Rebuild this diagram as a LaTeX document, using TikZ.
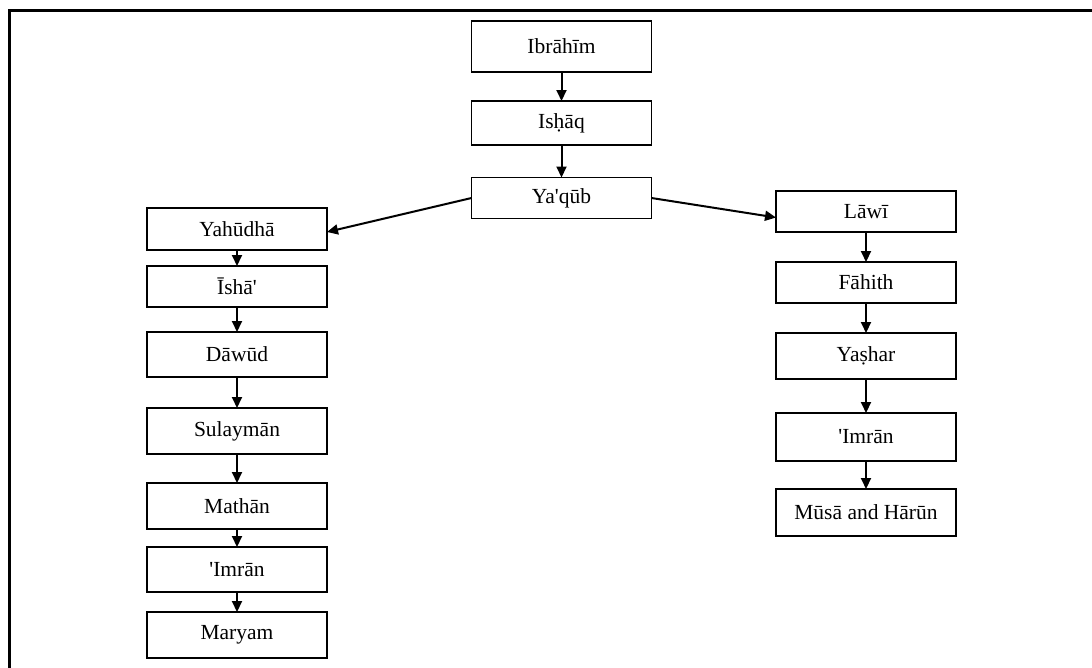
\documentclass[tikz,border=0pt]{standalone}
\usepackage{fontspec}
\setmainfont{Liberation Serif}[Ligatures=TeXOff]
\usetikzlibrary{arrows.meta,positioning}
\tikzset{
	family tree/.style={
		x=1pt, y=-1pt,
		font=\fontsize{21.5}{24}\selectfont,
		ar/.style={draw, line width=2pt, -{Triangle[length=11pt,width=10pt]}},
		frame/.style={draw, line width=3pt}
	},
	pbox/.style={draw, line width=1.7pt, minimum width=180pt, minimum height=#1,
		inner sep=0pt, outer sep=0pt},
	pbox/.default=44pt
}

\begin{document}
\begin{tikzpicture}[family tree]
	\useasboundingbox (0,0) rectangle (1092,667);
	\clip (0,0) rectangle (1092,667);
	\path[frame] (9,10) rectangle (1120,700);
	% top line
	\node[pbox=51pt] (ibrahim) at (561.5,46.5) {Ibrāhīm};
	\node[pbox=44pt] (ishaq) at (561.5,123) {Isḥāq};
	\node[pbox=41pt] (yaqub) at (561.5,198) {Ya'qūb};
	% left line
	\node[pbox=42pt] (yahudha) at (237,229) {Yahūdhā};
	\node[pbox=41pt] (isha) at (237,286.5) {Īshā'};
	\node[pbox=45pt] (dawud) at (237,354.5) {Dāwūd};
	\node[pbox=46pt] (sulayman) at (237,431) {Sulaymān};
	\node[pbox=46pt] (mathan) at (237,506) {Mathān};
	\node[pbox=45pt] (imranL) at (237,569.5) {'Imrān};
	\node[pbox=46pt] (maryam) at (237,635) {Maryam};
	% right line
	\node[pbox=41pt] (lawi) at (866,211.5) {Lāwī};
	\node[pbox=41pt] (fahith) at (866,282.5) {Fāhith};
	\node[pbox=46pt] (yashar) at (866,356) {Yaṣhar};
	\node[pbox=48pt] (imranR) at (866,437) {'Imrān};
	\node[pbox=47pt] (musa) at (866,512.5) {Mūsā and Hārūn};
	\draw[ar] (ibrahim) -- (ishaq);
	\draw[ar] (ishaq) -- (yaqub);
	\draw[ar] (yaqub.west) -- ([yshift=-3pt]yahudha.east);
	\draw[ar] (yaqub.east) -- ([yshift=-6pt]lawi.west);
	\draw[ar] (yahudha) -- (isha);
	\draw[ar] (isha) -- (dawud);
	\draw[ar] (dawud) -- (sulayman);
	\draw[ar] (sulayman) -- (mathan);
	\draw[ar] (mathan) -- (imranL);
	\draw[ar] (imranL) -- (maryam);
	\draw[ar] (lawi) -- (fahith);
	\draw[ar] (fahith) -- (yashar);
	\draw[ar] (yashar) -- (imranR);
	\draw[ar] (imranR) -- (musa);
\end{tikzpicture}
\end{document}
